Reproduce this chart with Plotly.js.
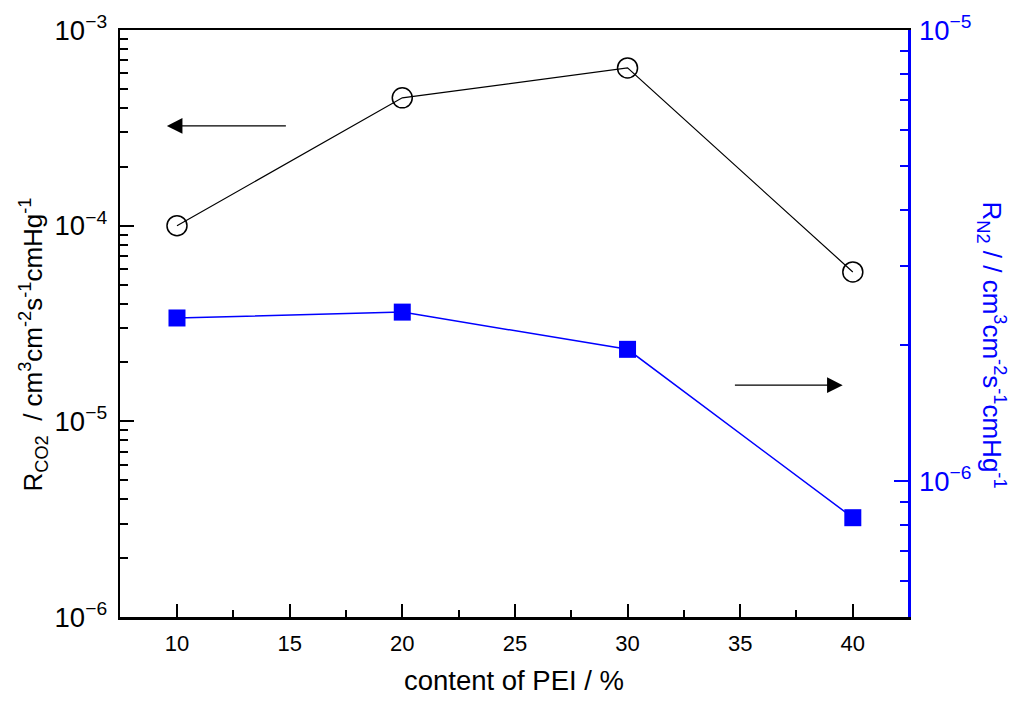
<!DOCTYPE html>
<html>
<head>
<meta charset="utf-8">
<script src="https://cdn.plot.ly/plotly-3.0.1.min.js"></script>
<style>
  html, body { margin: 0; padding: 0; background: #fff; }
  #chart { width: 1024px; height: 708px; }
</style>
</head>
<body>
<div id="chart"></div>
<script>
// PEI content, %
const pei_content = [10, 20, 30, 40]
// CO2 permeance, cm3 cm-2 s-1 cmHg-1 (left axis)
const r_co2 = [1.0e-4, 4.5e-4, 6.4e-4, 5.8e-5]
// N2 permeance, cm3 cm-2 s-1 cmHg-1 (right axis)
const r_n2 = [2.30e-6, 2.37e-6, 1.96e-6, 8.3e-7]

// arrows pointing at each series' axis: [x tail, x head, y (left axis, log10)]
const arrow_left = [14.9, 9.55, -3.49]
const arrow_right = [34.7, 39.55, -4.815]

const font_family = 'Liberation Sans, Arial, sans-serif'
const blue = '#0000ff'

const co2_trace = {
    x: pei_content,
    y: r_co2,
    mode: 'lines+markers',
    line: { color: '#000', width: 1.2 },
    marker: { symbol: 'circle-open', size: 20, color: '#000', line: { width: 1.5, color: '#000' } },
    yaxis: 'y',
}

const n2_trace = {
    x: pei_content,
    y: r_n2,
    mode: 'lines+markers',
    line: { color: blue, width: 1.5 },
    marker: { symbol: 'square', size: 17, color: blue },
    yaxis: 'y2',
}

function arrow(a) {
    return {
        x: a[1], y: a[2], ax: a[0], ay: a[2],
        xref: 'x', yref: 'y', axref: 'x', ayref: 'y',
        text: '', showarrow: true,
        arrowhead: 2, arrowsize: 2.6, arrowwidth: 1.2, arrowcolor: '#000',
    }
}

function axisTitle(text, side, color) {
    return {
        text: text,
        xref: 'paper', yref: 'paper',
        x: side === 'left' ? 0 : 1, y: 0.5,
        xanchor: 'center', yanchor: 'middle',
        xshift: side === 'left' ? -87 : 84,
        yshift: -21,
        textangle: side === 'left' ? -90 : 90,
        showarrow: false,
        font: { size: 26, color: color, family: font_family },
    }
}

const layout = {
    width: 1024,
    height: 708,
    margin: { l: 120, r: 116, t: 30, b: 91 },
    paper_bgcolor: '#fff',
    plot_bgcolor: '#fff',
    showlegend: false,
    font: { family: font_family, size: 22, color: '#000' },
    xaxis: {
        range: [7.47, 42.45],
        dtick: 5,
        ticks: 'inside', ticklen: 13, tickwidth: 2, tickcolor: '#000',
        minor: { ticks: 'inside', dtick: 2.5, ticklen: 7, tickwidth: 2, tickcolor: '#000' },
        showline: true, linewidth: 2.5, linecolor: '#000', mirror: true,
        showgrid: false, zeroline: false,
        ticklabelstandoff: 5,
        tickfont: { size: 22, family: font_family },
        title: { text: 'content of PEI / %', font: { size: 27.5, family: font_family }, standoff: 16 },
    },
    yaxis: {
        type: 'log',
        range: [-6, -3],
        dtick: 1,
        exponentformat: 'power',
        ticks: 'inside', ticklen: 14, tickwidth: 2, tickcolor: '#000',
        minor: { ticks: 'inside', dtick: 'D1', ticklen: 8, tickwidth: 2, tickcolor: '#000' },
        showline: true, linewidth: 2.5, linecolor: '#000',
        showgrid: false, zeroline: false,
        ticklabelstandoff: 6,
        tickfont: { size: 22, family: font_family },
    },
    yaxis2: {
        type: 'log',
        overlaying: 'y',
        side: 'right',
        range: [-6.301, -5],
        dtick: 1,
        exponentformat: 'power',
        ticks: 'inside', ticklen: 14, tickwidth: 2, tickcolor: blue,
        minor: { ticks: 'inside', dtick: 'D1', ticklen: 8, tickwidth: 2, tickcolor: blue },
        showline: true, linewidth: 2.5, linecolor: blue,
        showgrid: false, zeroline: false,
        ticklabelstandoff: 4,
        tickfont: { size: 22, color: blue, family: font_family },
    },
    annotations: [
        arrow(arrow_left),
        arrow(arrow_right),
        axisTitle('R<sub>CO2</sub>  / cm<sup>3</sup>cm<sup>-2</sup>s<sup>-1</sup>cmHg<sup>-1</sup>', 'left', '#000'),
        axisTitle('R<sub>N2</sub> / / cm<sup>3</sup>cm<sup>-2</sup>s<sup>-1</sup>cmHg<sup>-1</sup>', 'right', blue),
    ],
}

Plotly.newPlot('chart', [co2_trace, n2_trace], layout, { displayModeBar: false, staticPlot: true })
</script>
</body>
</html>
